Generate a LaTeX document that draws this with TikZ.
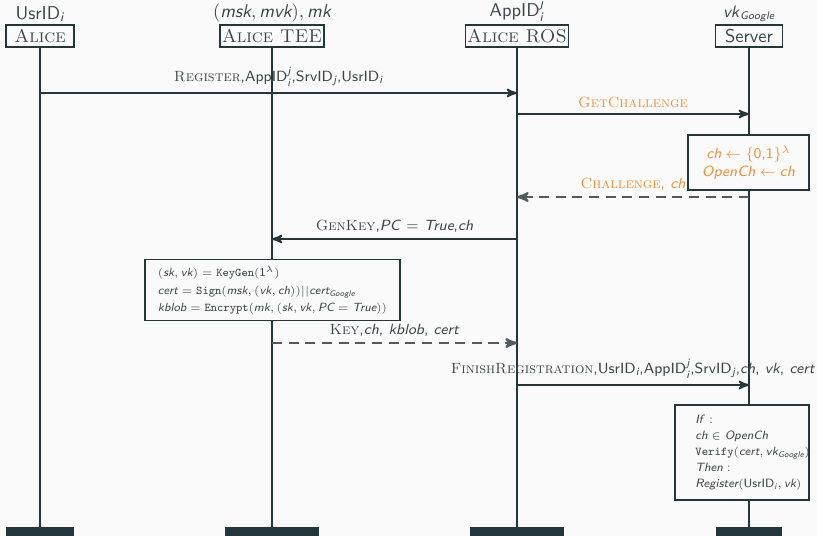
\documentclass[tikz,border=0pt]{standalone}
\usepackage{amsmath}
\usepackage{amssymb}
\usetikzlibrary{arrows}
\usetikzlibrary{calc}

\definecolor{bgclr}{HTML}{FAFAFA}
\definecolor{lineclr}{HTML}{233639}
\definecolor{textclr}{HTML}{3B4749}
\definecolor{dashclr}{HTML}{4F5B5D}
\definecolor{chclr}{HTML}{F0913A}

\renewcommand{\familydefault}{\sfdefault}
\newcommand{\scname}[1]{\textrm{\textsc{#1}}}
% sans italic variables, typewriter function names
\newcommand{\vr}[1]{\textit{#1}}
\newcommand{\fn}[1]{\text{\ttfamily #1}}

\tikzset{
    party/.style={draw=lineclr, line width=0.8pt, fill=bgclr, text=textclr,
        minimum height=0.42cm, inner sep=1pt},
    knows/.style={above=-1pt, text=textclr, inner sep=2pt},
    partyend/.style={fill=lineclr, minimum height=0.17cm, inner sep=0pt},
    lifeline/.style={draw=lineclr, line width=1.6pt},
    msg/.style={draw=lineclr, line width=1pt, -stealth'},
    reply/.style={draw=dashclr, line width=1.2pt, dash pattern=on 5.5pt off 3.5pt, -stealth'},
    lbl/.style={above, text=textclr, inner sep=3pt, font=\footnotesize},
    calcbox/.style={draw=lineclr, line width=0.8pt, fill=bgclr, text=textclr}
}

\begin{document}
\sffamily
\begin{tikzpicture}[x=0.019cm, y=-0.019cm]
    \fill[bgclr] (0,0) rectangle (817,536);
    \useasboundingbox (0,0) rectangle (817,536);

    % parties
    \node[party, minimum width=1.29cm] (alice) at (40,36) {\scname{Alice}};
    \node[party, minimum width=1.79cm] (tee) at (272,36) {\scname{Alice TEE}};
    \node[party, minimum width=1.79cm] (ros) at (517,36) {\scname{Alice ROS}};
    \node[party, minimum width=1.27cm] (server) at (749,36) {Server};

    \node[knows] (aliceknows) at (alice.north) {UsrID$_{\vr{i}}$};
    \node[knows] (teeknows) at (tee.north) {$(\vr{msk}, \vr{mvk}), \vr{mk}$};
    \node[knows] (rosknows) at (ros.north) {AppID$^{\vr{j}}_{\vr{i}}$};
    \node[knows] (serverknows) at (server.north) {\small\vr{vk}$_{\vr{Google}}$};

    \node[partyend, minimum width=1.29cm] (aliceend) at (40,531.5) {};
    \node[partyend, minimum width=1.79cm] (teeend) at (272,531.5) {};
    \node[partyend, minimum width=1.79cm] (rosend) at (517,531.5) {};
    \node[partyend, minimum width=1.27cm] (serverend) at (749,531.5) {};

    \draw[lifeline] (alice) -- (aliceend);
    \draw[lifeline] (tee) -- (teeend);
    \draw[lifeline] (ros) -- (rosend);
    \draw[lifeline] (server) -- (serverend);

    % message end points
    \coordinate (reg-a) at (alice |- 0,93);
    \coordinate (reg-r) at (ros |- 0,93);
    \coordinate (get-r) at (ros |- 0,114);
    \coordinate (get-s) at (server |- 0,114);
    \coordinate (chal-s) at (server |- 0,197);
    \coordinate (chal-r) at (ros |- 0,197);
    \coordinate (gen-r) at (ros |- 0,239);
    \coordinate (gen-t) at (tee |- 0,239);
    \coordinate (key-t) at (tee |- 0,343);
    \coordinate (key-r) at (ros |- 0,343);
    \coordinate (fin-r) at (ros |- 0,385);
    \coordinate (fin-s) at (server |- 0,385);

    \draw[msg] (reg-a) -- node[lbl] {\scname{Register},AppID$^{\vr{j}}_{\vr{i}}$,SrvID$_{\vr{j}}$,UsrID$_{\vr{i}}$} (reg-r);
    \draw[msg] (get-r) -- node[lbl, text=chclr] {\scname{GetChallenge}} (get-s);

    \node[calcbox, text=chclr, align=center, font=\footnotesize, minimum width=2.3cm, minimum height=1.05cm]
        (chbox) at (748.5,162.5) {$\vr{ch} \leftarrow \{\text{0,1}\}^\lambda$\\$\vr{OpenCh} \leftarrow \vr{ch}$};

    \draw[reply] (chal-s) -- node[lbl, text=chclr] {\scname{Challenge}, \vr{ch}} (chal-r);
    \draw[msg] (gen-r) -- node[lbl] {\scname{GenKey},\vr{PC} $=$ \vr{True},\vr{ch}} (gen-t);

    \node[calcbox, align=left, font={\fontsize{6.4pt}{9.4pt}\selectfont}, minimum width=4.85cm, minimum height=1.14cm]
        (keybox) at (272.5,290) {%
        $(\vr{sk}, \vr{vk}) = \fn{KeyGen}(\text{1}^\lambda)$\\
        $\vr{cert} = \fn{Sign}(\vr{msk}, (\vr{vk}, \vr{ch})) || \vr{cert}_{\vr{Google}}$\\
        $\vr{kblob} = \fn{Encrypt}(\vr{mk}, (\vr{sk}, \vr{vk}, \vr{PC} = \vr{True}))$};

    \draw[reply] (key-t) -- node[lbl] {\scname{Key},\vr{ch}, \vr{kblob}, \vr{cert}} (key-r);
    \draw[msg] (fin-r) -- node[lbl] {\scname{FinishRegistration},UsrID$_{\vr{i}}$,AppID$^{\vr{j}}_{\vr{i}}$,SrvID$_{\vr{j}}$,\vr{ch}, \vr{vk}, \vr{cert}} (fin-s);

    % verification box, text set in from the left
    \node[calcbox, minimum width=2.55cm, minimum height=1.8cm] (verbox) at (742,452.5) {};
    \node[anchor=west, align=left, text=textclr, inner sep=0pt, font={\fontsize{6.5pt}{8.6pt}\selectfont}]
        (vertext) at (695,452.5) {%
        \vr{If} :\\
        $\vr{ch} \in \vr{OpenCh}$\\
        $\fn{Verify}(\vr{cert}, \vr{vk}_{\vr{Google}})$\\
        \vr{Then} :\\
        $\vr{Register}(\text{UsrID}_{\vr{i}}, \vr{vk})$};
\end{tikzpicture}
\end{document}
